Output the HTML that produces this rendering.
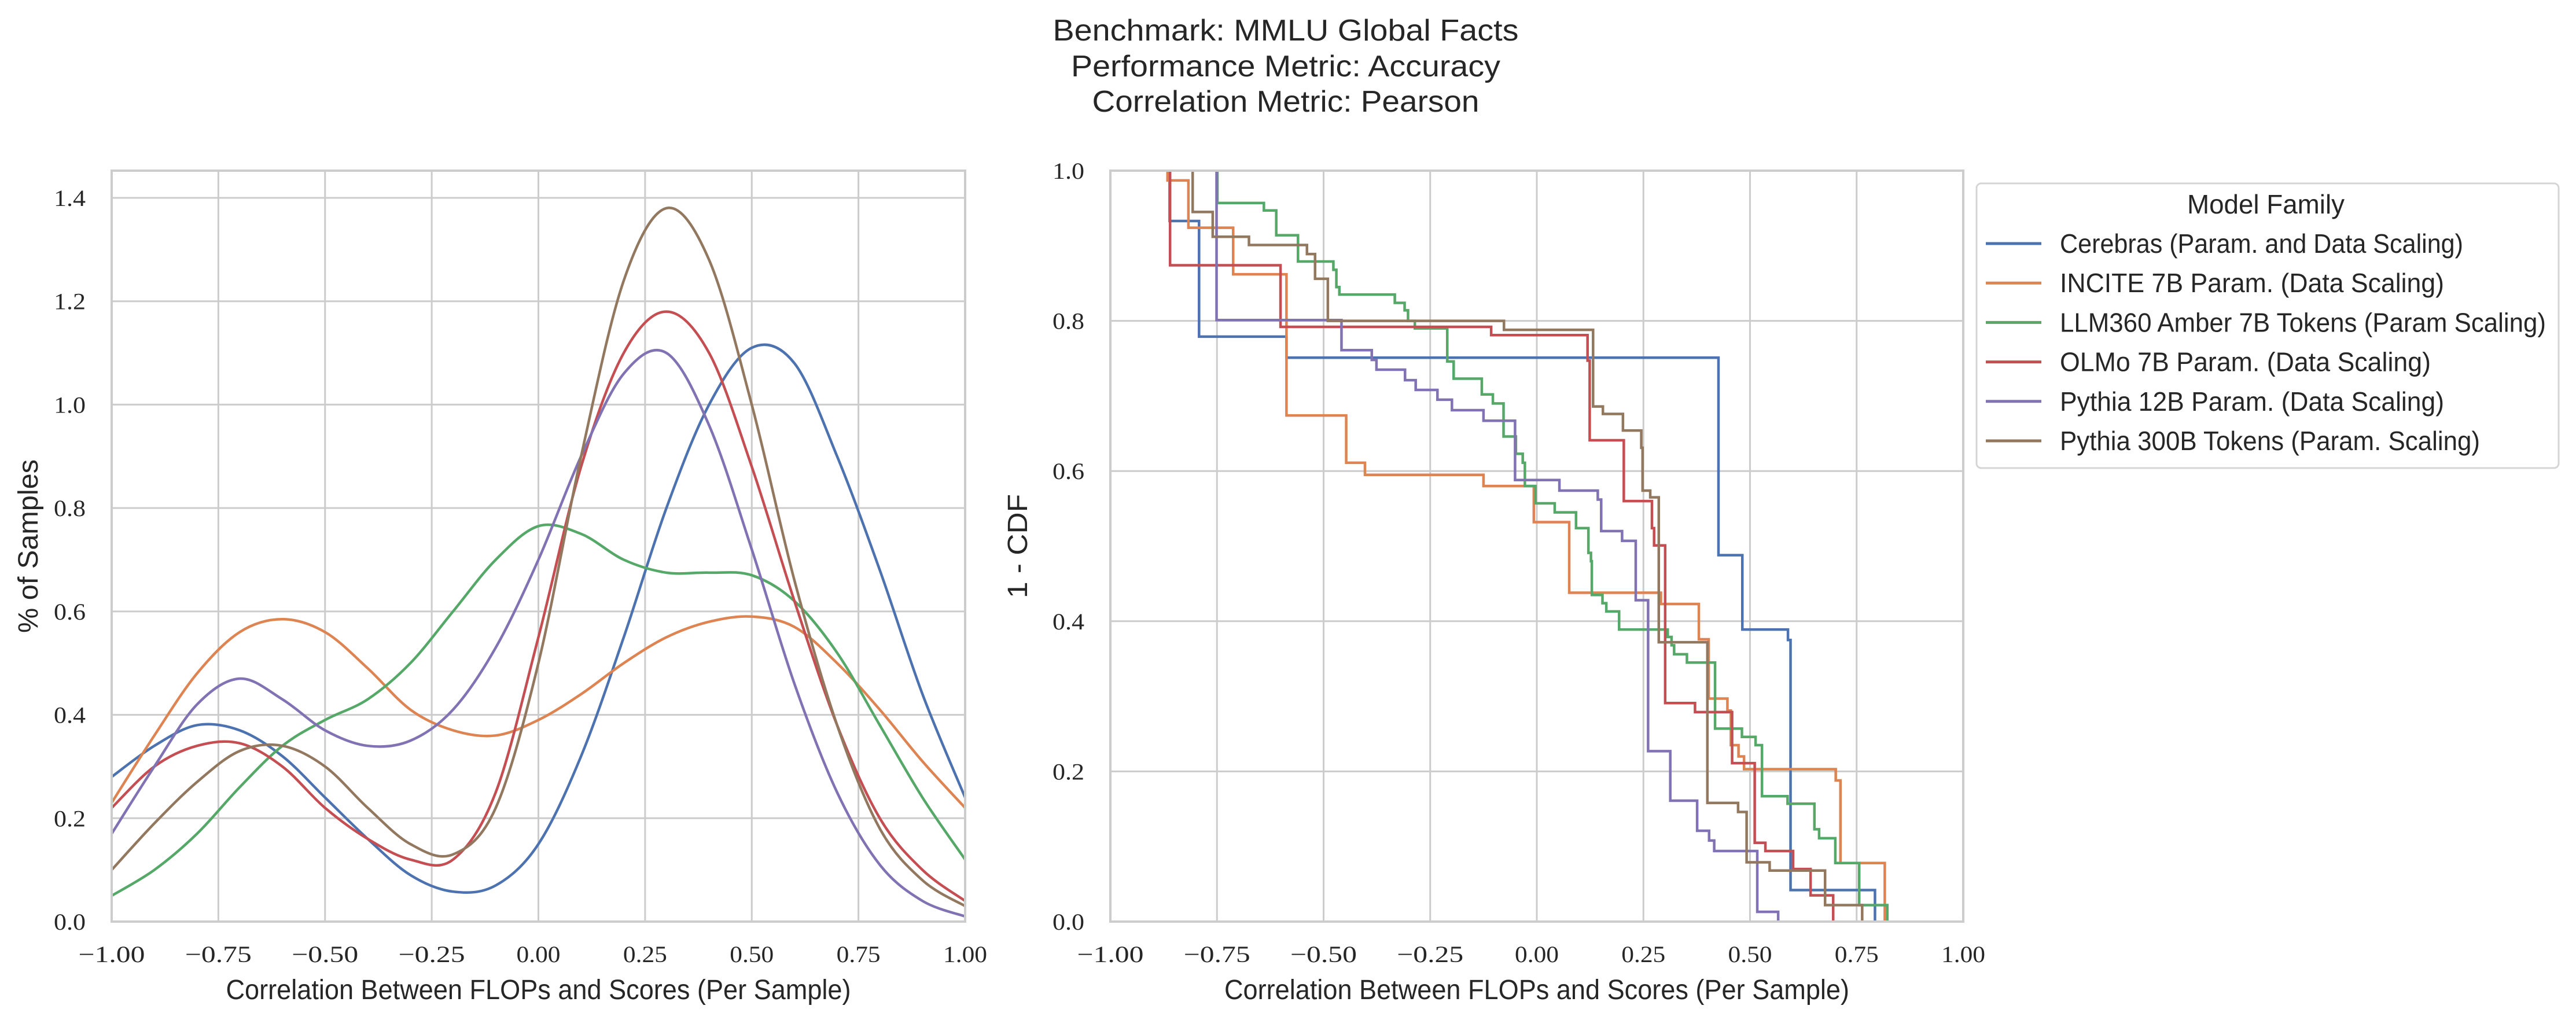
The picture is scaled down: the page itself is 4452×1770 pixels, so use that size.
<!DOCTYPE html>
<html><head><meta charset="utf-8"><style>
html,body{margin:0;padding:0;background:#fff;}
svg{display:block;}
text{fill:#262626;}
.sans{font-family:"Liberation Sans",sans-serif;}
.serif{font-family:"Liberation Serif",serif;}
</style></head><body>
<svg id="fig" width="4452" height="1770" viewBox="0 0 4452 1770" xmlns="http://www.w3.org/2000/svg">
<rect width="4452" height="1770" fill="#fff"/>
<g class="sans" font-size="52" text-anchor="middle">
<text x="2222" y="70" textLength="805" lengthAdjust="spacingAndGlyphs">Benchmark: MMLU Global Facts</text>
<text x="2222" y="132" textLength="742" lengthAdjust="spacingAndGlyphs">Performance Metric: Accuracy</text>
<text x="2222" y="193" textLength="669" lengthAdjust="spacingAndGlyphs">Correlation Metric: Pearson</text>
</g>
<g id="left"></g>
<g id="right"></g>
<g id="legend"></g>
</svg>
<script>
const seriesNames = ["Cerebras (Param. and Data Scaling)","INCITE 7B Param. (Data Scaling)","LLM360 Amber 7B Tokens (Param Scaling)","OLMo 7B Param. (Data Scaling)","Pythia 12B Param. (Data Scaling)","Pythia 300B Tokens (Param. Scaling)"];
const colors = ["#4c72b0","#dd8452","#55a868","#c44e52","#8172b3","#937860"];
const kdeX = [-1,-0.9,-0.8,-0.7,-0.6,-0.5,-0.4,-0.3,-0.2,-0.1,0,0.1,0.2,0.3,0.4,0.5,0.6,0.7,0.8,0.9,1];
const kdeCerebras = [0.28,0.34,0.38,0.37,0.32,0.24,0.16,0.09,0.058,0.07,0.15,0.32,0.55,0.80,1.00,1.11,1.08,0.90,0.68,0.44,0.24];
const kdeIncite = [0.23,0.36,0.48,0.56,0.585,0.56,0.49,0.41,0.37,0.36,0.39,0.44,0.50,0.55,0.58,0.59,0.57,0.50,0.41,0.31,0.22];
const kdeAmber = [0.05,0.10,0.17,0.26,0.34,0.39,0.43,0.50,0.60,0.70,0.765,0.75,0.70,0.675,0.675,0.67,0.62,0.52,0.38,0.24,0.12];
const kdeOlmo = [0.22,0.30,0.34,0.345,0.30,0.22,0.16,0.12,0.12,0.25,0.55,0.88,1.10,1.18,1.10,0.88,0.62,0.38,0.20,0.10,0.04];
const kdePythia12 = [0.17,0.30,0.42,0.47,0.43,0.37,0.34,0.35,0.41,0.53,0.70,0.90,1.06,1.10,0.96,0.72,0.46,0.25,0.11,0.04,0.01];
const kdePythia300 = [0.10,0.19,0.27,0.33,0.34,0.30,0.22,0.15,0.13,0.22,0.50,0.90,1.24,1.38,1.28,1.00,0.66,0.38,0.18,0.08,0.03];
const kdeSeries = [kdeCerebras,kdeIncite,kdeAmber,kdeOlmo,kdePythia12,kdePythia300];
const xTicks = [-1,-0.75,-0.5,-0.25,0,0.25,0.5,0.75,1];
const xTickLabels = ["\u22121.00","\u22120.75","\u22120.50","\u22120.25","0.00","0.25","0.50","0.75","1.00"];
const leftYTicks = [0,0.2,0.4,0.6,0.8,1.0,1.2,1.4];
const leftYTickLabels = ["0.0","0.2","0.4","0.6","0.8","1.0","1.2","1.4"];
const rightYTicks = [0,0.2,0.4,0.6,0.8,1.0];
const rightYTickLabels = ["0.0","0.2","0.4","0.6","0.8","1.0"];
// step CDF: at stepX[i] the value drops to stepY[i]
const cdfCerebrasX = [-0.861,-0.792,-0.587,0.426,0.482,0.589,0.595,0.793];
const cdfCerebrasY = [0.933,0.779,0.751,0.488,0.389,0.375,0.042,0];
const cdfInciteX = [-0.866,-0.817,-0.712,-0.587,-0.447,-0.403,-0.125,-0.007,0.076,0.291,0.380,0.403,0.447,0.455,0.473,0.486,0.701,0.712,0.816];
const cdfInciteY = [0.987,0.924,0.862,0.674,0.611,0.595,0.580,0.532,0.438,0.423,0.376,0.297,0.281,0.235,0.220,0.203,0.188,0.078,0];
const cdfAmberX = [-0.749,-0.640,-0.611,-0.560,-0.477,-0.470,-0.463,-0.333,-0.310,-0.302,-0.286,-0.210,-0.195,-0.129,-0.103,-0.078,-0.049,-0.033,-0.028,-0.003,0.042,0.092,0.121,0.127,0.129,0.154,0.163,0.193,0.307,0.316,0.322,0.352,0.418,0.481,0.513,0.528,0.588,0.651,0.662,0.700,0.756,0.822];
const cdfAmberY = [0.957,0.947,0.914,0.879,0.868,0.845,0.835,0.824,0.814,0.800,0.790,0.746,0.723,0.702,0.690,0.646,0.623,0.611,0.580,0.557,0.545,0.524,0.491,0.480,0.435,0.424,0.413,0.389,0.379,0.368,0.356,0.345,0.257,0.246,0.235,0.167,0.157,0.123,0.111,0.078,0.022,0];
const cdfOlmoX = [-0.860,-0.601,-0.107,0.119,0.124,0.204,0.270,0.275,0.301,0.371,0.458,0.511,0.536,0.601,0.642,0.695];
const cdfOlmoY = [0.874,0.792,0.781,0.747,0.641,0.560,0.524,0.501,0.291,0.279,0.211,0.105,0.094,0.070,0.035,0];
const cdfPythia12X = [-0.751,-0.458,-0.387,-0.376,-0.309,-0.284,-0.233,-0.199,-0.125,-0.051,0.053,0.143,0.151,0.200,0.232,0.261,0.313,0.376,0.404,0.416,0.517,0.566];
const cdfPythia12Y = [0.801,0.761,0.748,0.735,0.721,0.708,0.695,0.681,0.667,0.588,0.574,0.562,0.520,0.507,0.428,0.227,0.161,0.121,0.108,0.094,0.013,0];
const cdfPythia300X = [-0.807,-0.760,-0.675,-0.539,-0.520,-0.490,-0.077,0.132,0.155,0.202,0.245,0.248,0.266,0.286,0.400,0.472,0.492,0.546,0.676,0.763];
const cdfPythia300Y = [0.945,0.912,0.901,0.889,0.856,0.800,0.788,0.686,0.676,0.654,0.631,0.574,0.565,0.372,0.158,0.146,0.079,0.068,0.022,0];
const cdfXs = [cdfCerebrasX,cdfInciteX,cdfAmberX,cdfOlmoX,cdfPythia12X,cdfPythia300X];
const cdfYs = [cdfCerebrasY,cdfInciteY,cdfAmberY,cdfOlmoY,cdfPythia12Y,cdfPythia300Y];

const NS="http://www.w3.org/2000/svg";
function mk(tag,attrs,parent){const e=document.createElementNS(NS,tag);for(const k in attrs)e.setAttribute(k,attrs[k]);parent.appendChild(e);return e;}
const T=1593,Tp=295;
const L={x0:193,x1:1668,ymax:1.4526};
const R={x0:1919,x1:3393,ymax:1.0};
function sx(ax,v){return ax.x0+(v+1)/2*(ax.x1-ax.x0);}
function sy(ax,v){return T-v/ax.ymax*(T-Tp);}

function axes(g,ax,yTicks,yLabels,ylabel,ylabelX,ylabelLen){
  mk('rect',{x:ax.x0,y:Tp,width:ax.x1-ax.x0,height:T-Tp,fill:'#fff'},g);
  xTicks.forEach((t,i)=>{
    const gl=mk('line',{x1:sx(ax,t),x2:sx(ax,t),y1:Tp,y2:T,stroke:'#cccccc','stroke-width':3},g);
    
    
    const tx=mk('text',{x:sx(ax,t),y:1663,'text-anchor':'middle','font-size':40,class:'serif',textLength:t<0?115:76,lengthAdjust:'spacingAndGlyphs'},g);
    tx.textContent=xTickLabels[i];
    
    
  });
  yTicks.forEach((t,i)=>{
    const gl=mk('line',{x1:ax.x0,x2:ax.x1,y1:sy(ax,t),y2:sy(ax,t),stroke:'#cccccc','stroke-width':3},g);
    
    
    const tx=mk('text',{x:ax.x0-45,y:sy(ax,t)+14,'text-anchor':'end','font-size':40,class:'serif',textLength:55,lengthAdjust:'spacingAndGlyphs'},g);
    tx.textContent=yLabels[i];
    
    
  });
  const xl=mk('text',{x:(ax.x0+ax.x1)/2,y:1727,'text-anchor':'middle','font-size':48,class:'sans',textLength:1080,lengthAdjust:'spacingAndGlyphs'},g);
  xl.textContent='Correlation Between FLOPs and Scores (Per Sample)';
  
  
  const yl=mk('text',{x:0,y:0,'text-anchor':'middle','font-size':48,class:'sans',textLength:ylabelLen,lengthAdjust:'spacingAndGlyphs',transform:`translate(${ylabelX},944) rotate(-90)`},g);
  yl.textContent=ylabel;
  
  
}
function frame(g,ax){
  const f=mk('rect',{x:ax.x0,y:Tp,width:ax.x1-ax.x0,height:T-Tp,fill:'none',stroke:'#cccccc','stroke-width':4},g);
  
  
}
const gl=document.getElementById('left'), gr=document.getElementById('right');
axes(gl,L,leftYTicks,leftYTickLabels,'% of Samples',65,300);
axes(gr,R,rightYTicks,rightYTickLabels,'1 - CDF',1775,180);

const lc=mk('g',{'clip-path':'url(#clipL)'},gl);
const defs=mk('defs',{},document.getElementById('fig'));
const cp=mk('clipPath',{id:'clipL'},defs);
mk('rect',{x:L.x0,y:Tp,width:L.x1-L.x0,height:T-Tp},cp);
kdeSeries.forEach((ys,s)=>{
  const P=kdeX.map((x,i)=>[sx(L,x),sy(L,ys[i])]);
  let d=`M${P[0][0]},${P[0][1]}`;
  for(let i=0;i<P.length-1;i++){
    const p0=P[Math.max(i-1,0)],p1=P[i],p2=P[i+1],p3=P[Math.min(i+2,P.length-1)];
    const c1=[p1[0]+(p2[0]-p0[0])/6,p1[1]+(p2[1]-p0[1])/6];
    const c2=[p2[0]-(p3[0]-p1[0])/6,p2[1]-(p3[1]-p1[1])/6];
    d+=` C${c1[0]},${c1[1]} ${c2[0]},${c2[1]} ${p2[0]},${p2[1]}`;
  }
  const p=mk('path',{d:d,fill:'none',stroke:colors[s],'stroke-width':4.5},lc);
  
  
});
frame(gl,L);

cdfXs.forEach((xs,s)=>{
  const ys=cdfYs[s];
  let d=`M${sx(R,xs[0])},${sy(R,1)}`;
  for(let i=0;i<xs.length;i++){
    d+=` L${sx(R,xs[i])},${sy(R,i===0?1:ys[i-1])} L${sx(R,xs[i])},${sy(R,ys[i])}`;
  }
  const p=mk('path',{d:d,fill:'none',stroke:colors[s],'stroke-width':4.5},gr);
  
  
});
frame(gr,R);

const lg=document.getElementById('legend');
mk('rect',{x:3416,y:317,width:1006,height:492,rx:8,fill:'#fff',stroke:'#d5d5d5','stroke-width':3},lg);
const lt=mk('text',{x:3916,y:369,'text-anchor':'middle','font-size':46,class:'sans',textLength:272,lengthAdjust:'spacingAndGlyphs'},lg);
lt.textContent='Model Family';


const legW=[697,664,840,641,664,726];
seriesNames.forEach((n,i)=>{
  const y=421+i*68.2;
  const ln=mk('line',{x1:3432,x2:3528,y1:y,y2:y,stroke:colors[i],'stroke-width':5},lg);
  
  
  const t=mk('text',{x:3560,y:y+16,'font-size':46,class:'sans',textLength:legW[i],lengthAdjust:'spacingAndGlyphs'},lg);
  t.textContent=n;
  
  
});
</script>
</body></html>
